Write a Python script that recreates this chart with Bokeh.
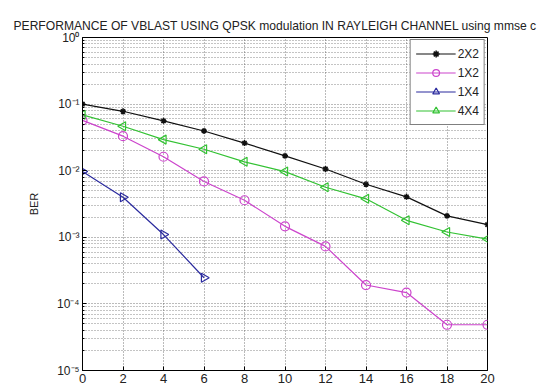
import math
from bokeh.plotting import figure
from bokeh.models import (FixedTicker, CustomJSTickFormatter, Range1d, Legend, LegendItem)
from bokeh.embed import file_html
from bokeh.resources import INLINE

snr = [0, 2, 4, 6, 8, 10, 12, 14, 16, 18, 20]
snr_1x4 = [0, 2, 4, 6]
ber_2x2 = [0.100, 0.078, 0.056, 0.0395, 0.026, 0.0167, 0.0106, 0.00625, 0.00405, 0.0021, 0.00155]
ber_1x2 = [0.057, 0.033, 0.0162, 0.0069, 0.0036, 0.00146, 0.00073, 0.000192, 0.000148, 0.0000486, 0.0000486]
ber_1x4 = [0.0097, 0.0040, 0.0011, 0.000247]
ber_4x4 = [0.069, 0.0465, 0.0293, 0.021, 0.0136, 0.0097, 0.00564, 0.00378, 0.0018, 0.0012, 0.00094]
x_ticks = [0, 2, 4, 6, 8, 10, 12, 14, 16, 18, 20]
y_decades = [-5, -4, -3, -2, -1, 0]
title_text = "PERFORMANCE OF VBLAST USING QPSK modulation IN RAYLEIGH CHANNEL using mmse c"

FONT = "Liberation Sans"

p = figure(width=541, height=389, y_axis_type="log", output_backend="svg",
           toolbar_location=None, x_range=Range1d(0, 20), y_range=Range1d(1e-5, 1),
           min_border_left=82, min_border_right=54, min_border_top=37, min_border_bottom=19)
p.background_fill_color = "white"
p.border_fill_color = "white"
p.outline_line_color = "black"
p.outline_line_width = 1

p.title.text = title_text
p.title.text_font = FONT
p.title.text_font_size = "12.1px"
p.title.text_font_style = "normal"
p.title.text_color = "#222222"
p.title.align = "left"
p.title.offset = -69
p.title.standoff = 10

yt = [10.0 ** d for d in y_decades]
yminor = [m * 10.0 ** d for d in y_decades[:-1] for m in range(2, 10)]
yticker = FixedTicker(ticks=yt, minor_ticks=yminor)
xticker = FixedTicker(ticks=x_ticks)

fmt = CustomJSTickFormatter(code="""
const e = Math.round(Math.log10(tick));
const sup = {'-':'\u207b','0':'\u2070','1':'\u00b9','2':'\u00b2','3':'\u00b3','4':'\u2074','5':'\u2075','6':'\u2076','7':'\u2077','8':'\u2078','9':'\u2079'};
return '10' + String(e).split('').map(c => sup[c]).join('');
""")

for ax in [p.xaxis[0], p.yaxis[0]]:
    ax.major_tick_in = 4
    ax.major_tick_out = 0
    ax.minor_tick_in = 2
    ax.minor_tick_out = 0
    ax.axis_line_color = "black"
    ax.major_label_text_font = FONT
    ax.major_label_text_color = "#222222"
    ax.major_label_standoff = 3
p.xaxis[0].major_label_text_font_size = "13px"
p.yaxis[0].major_label_text_font_size = "12px"
p.xaxis[0].ticker = xticker
p.yaxis[0].ticker = yticker
p.yaxis[0].formatter = fmt
p.yaxis[0].axis_label = "BER"
p.yaxis[0].axis_label_text_font = FONT
p.yaxis[0].axis_label_text_font_size = "11px"
p.yaxis[0].axis_label_text_font_style = "normal"
p.yaxis[0].axis_label_text_color = "#222222"
p.yaxis[0].axis_label_standoff = 14

grid_col = "#555555"
p.xgrid.ticker = xticker
p.xgrid.grid_line_color = grid_col
p.xgrid.grid_line_dash = "1 2"
p.xgrid.grid_line_alpha = 0.8
p.ygrid.ticker = yticker
p.ygrid.grid_line_color = grid_col
p.ygrid.grid_line_dash = "1 2"
p.ygrid.grid_line_alpha = 0.8
p.ygrid.minor_grid_line_color = grid_col
p.ygrid.minor_grid_line_dash = "1 2"
p.ygrid.minor_grid_line_alpha = 0.7

c_2x2 = "#111111"
c_1x2 = "#CC44CC"
c_1x4 = "#2B2B9E"
c_4x4 = "#33C233"

l1 = p.line(snr, ber_2x2, line_color=c_2x2, line_width=1.2)
m1 = p.scatter(snr, ber_2x2, marker="asterisk", size=6, line_color=c_2x2, line_width=1.5)
l2 = p.line(snr, ber_1x2, line_color=c_1x2, line_width=1.2)
m2 = p.scatter(snr, ber_1x2, marker="circle", size=9, line_color=c_1x2, fill_alpha=0, line_width=1.2)
l3 = p.line(snr_1x4, ber_1x4, line_color=c_1x4, line_width=1.2)
m3 = p.scatter(snr_1x4, ber_1x4, marker="triangle", angle=-math.pi / 2, size=9,
               line_color=c_1x4, fill_alpha=0, line_width=1.2)
l4 = p.line(snr, ber_4x4, line_color=c_4x4, line_width=1.2)
m4 = p.scatter(snr, ber_4x4, marker="triangle", angle=math.pi / 2, size=9,
               line_color=c_4x4, fill_alpha=0, line_width=1.2)

legend = Legend(items=[
    LegendItem(label="2X2", renderers=[l1, m1]),
    LegendItem(label="1X2", renderers=[l2, m2]),
    LegendItem(label="1X4", renderers=[l3, m3]),
    LegendItem(label="4X4", renderers=[l4, m4]),
], location="top_right")
legend.label_text_font = FONT
legend.label_text_font_size = "12px"
legend.label_text_color = "#222222"
legend.border_line_color = "black"
legend.border_line_width = 1
legend.background_fill_color = "white"
legend.background_fill_alpha = 1
legend.glyph_width = 40
legend.glyph_height = 17
legend.label_height = 17
legend.spacing = 2
legend.padding = 5
legend.margin = 2
legend.label_standoff = 2
p.add_layout(legend)

open("out.html", "w").write(file_html(p, INLINE))
